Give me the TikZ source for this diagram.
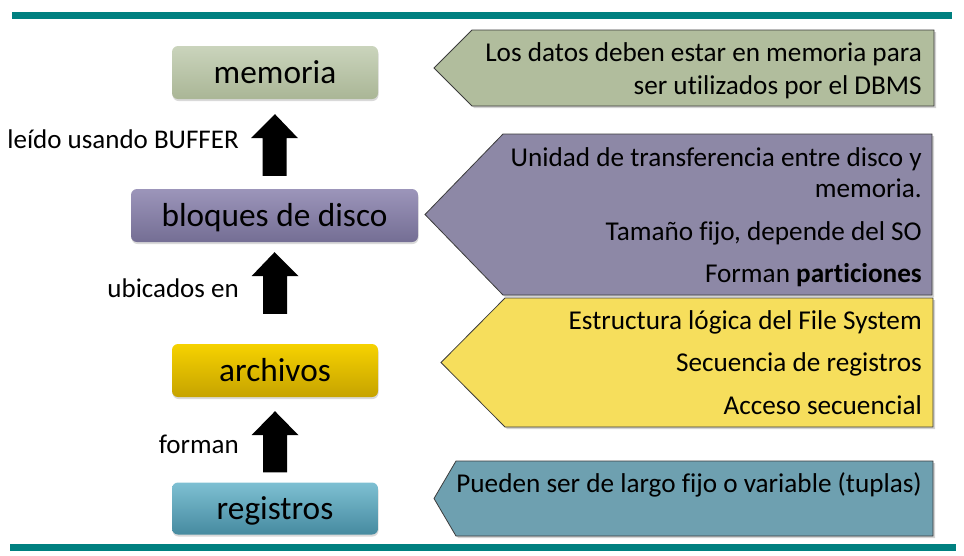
\documentclass[tikz,border=0pt]{standalone}
\usepackage{fontspec}
\setmainfont{Carlito}[Ligatures=NoCommon]
\usetikzlibrary{calc,shadows}
\definecolor{barteal}{RGB}{0,128,128}
\definecolor{memTop}{RGB}{202,212,188}
\definecolor{memBot}{RGB}{170,182,150}
\definecolor{blTop}{RGB}{156,149,186}
\definecolor{blBot}{RGB}{116,110,148}
\definecolor{arTop}{RGB}{246,210,0}
\definecolor{arBot}{RGB}{198,163,0}
\definecolor{reTop}{RGB}{126,192,210}
\definecolor{reBot}{RGB}{70,138,160}
\definecolor{cGreen}{RGB}{177,189,157}
\definecolor{cPurple}{RGB}{141,136,166}
\definecolor{cYellow}{RGB}{246,222,92}
\definecolor{cTeal}{RGB}{110,160,176}
\definecolor{cBorder}{RGB}{60,60,60}
\newcommand{\upblockarrow}[2]{%
  \fill[blockarrow] let \p1=(#1), \p2=(#2) in
    (\x2-12pt,\y2) -- (\x2-12pt,\y1-24pt) -- (\x2-23.5pt,\y1-24pt) -- (\x1,\y1)
    -- (\x2+23.5pt,\y1-24pt) -- (\x2+12pt,\y1-24pt) -- (\x2+12pt,\y2) -- cycle;}
\tikzset{
  box/.style={rounded corners=6pt, inner sep=0pt, text height=21pt, text depth=0pt,
    minimum height=53pt, font=\fontsize{33.3}{40}\selectfont,
    drop shadow={shadow xshift=0.5pt, shadow yshift=-2pt, opacity=0.3}},
  callout/.style={draw=cBorder, line width=0.8pt,
    drop shadow={shadow xshift=2pt, shadow yshift=-2pt, opacity=0.35}},
  ctext/.style={anchor=base east, inner sep=0pt, font=\fontsize{27.2}{32}\selectfont},
  lab/.style={anchor=base east, inner sep=0pt, font=\fontsize{27}{32}\selectfont},
  blockarrow/.style={fill=black},
}
\begin{document}
\begin{tikzpicture}[x=1pt,y=-1pt]
\useasboundingbox (0,0) rectangle (964,555);
% bars
\fill[barteal] (12,12) rectangle (952,19);
\fill[barteal] (10,544) rectangle (956,551);

% boxes
\node[box, top color=memTop, bottom color=memBot, minimum width=206pt] (mem) at (275,72.5) {memoria};
\node[box, top color=blTop, bottom color=blBot, minimum width=287pt] (bl) at (274.5,215.5) {bloques de disco};
\node[box, top color=arTop, bottom color=arBot, minimum width=206pt] (ar) at (275,370.5) {archivos};
\node[box, top color=reTop, bottom color=reBot, minimum width=206pt, minimum height=52pt] (re) at (275,508.5) {registros};

% arrows
\coordinate (t1) at ($(mem.south)+(0,15)$);
\coordinate (b1) at ($(bl.north)+(0,-13)$);
\coordinate (t2) at ($(bl.south)+(0,10)$);
\coordinate (b2) at ($(ar.north)+(0,-30)$);
\coordinate (t3) at ($(ar.south)+(0,14)$);
\coordinate (b3) at ($(re.north)+(0,-10)$);
\upblockarrow{t1}{b1}
\upblockarrow{t2}{b2}
\upblockarrow{t3}{b3}

% labels
\node[lab] (l1) at (239,148) {leído usando BUFFER};
\node[lab] (l2) at (239,297) {ubicados en};
\node[lab] (l3) at (239,453) {forman};

% callouts
\fill[callout, fill=cGreen] (472,30) -- (934,30) -- (934,106) -- (472,106) -- (434,68) -- cycle;
\fill[callout, fill=cPurple] (503,134) -- (932,134) -- (932,295) -- (503,295) -- (425,214.5) -- cycle;
\fill[callout, fill=cYellow] (505,298) -- (933,298) -- (933,427) -- (505,427) -- (441,362.5) -- cycle;
\fill[callout, fill=cTeal] (456,461) -- (933,461) -- (933,536) -- (456,536) -- (434,498.5) -- cycle;

% callout texts
\node[ctext] (g1) at (922,61) {Los datos deben estar en memoria para};
\node[ctext] (g2) at (922,94) {ser utilizados por el DBMS};
\node[ctext] (p1) at (922,166) {Unidad de transferencia entre disco y};
\node[ctext] (p2) at (922,197) {memoria.};
\node[ctext] (p3) at (922,240) {Tamaño fijo, depende del SO};
\node[ctext] (p4) at (922,282) {Forman \textbf{particiones}};
\node[ctext] (y1) at (922,329) {Estructura lógica del File System};
\node[ctext] (y2) at (922,371) {Secuencia de registros};
\node[ctext] (y3) at (922,414) {Acceso secuencial};
\node[ctext] (tt1) at (922,492) {Pueden ser de largo fijo o variable (tuplas)};
\end{tikzpicture}
\end{document}
